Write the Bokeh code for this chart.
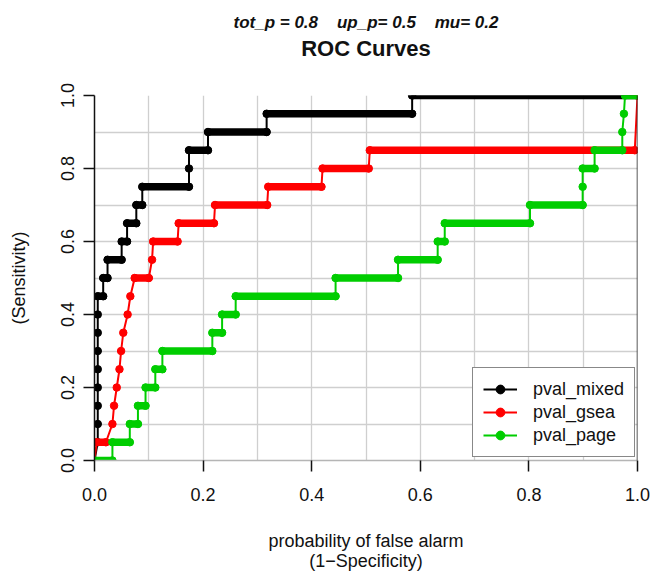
from bokeh.plotting import figure
from bokeh.models import (Range1d, FixedTicker, Span, Legend, LegendItem,
                          LinearAxis, PrintfTickFormatter)
from bokeh.embed import file_html
from bokeh.resources import INLINE

# ---------------- data ----------------
series_names = ["pval_mixed", "pval_gsea", "pval_page"]
series_colors = ["#000000", "#ff0000", "#00cd00"]

mixed_fpr = [0.0, 0.006, 0.006, 0.006, 0.006, 0.006, 0.006, 0.006, 0.006, 0.006,
             0.016, 0.016, 0.024, 0.024, 0.050, 0.050, 0.060, 0.060, 0.077, 0.077,
             0.088, 0.088, 0.174, 0.174, 0.174, 0.209, 0.209, 0.317, 0.317, 0.585,
             0.585, 1.0]
mixed_tpr = [0.0, 0.05, 0.10, 0.15, 0.20, 0.25, 0.30, 0.35, 0.40, 0.45,
             0.45, 0.50, 0.50, 0.55, 0.55, 0.60, 0.60, 0.65, 0.65, 0.70,
             0.70, 0.75, 0.75, 0.80, 0.85, 0.85, 0.90, 0.90, 0.95, 0.95,
             1.0, 1.0]

gsea_fpr = [0.0, 0.004, 0.021, 0.033, 0.036, 0.041, 0.046, 0.049, 0.053, 0.061,
            0.066, 0.074, 0.100, 0.106, 0.108, 0.153, 0.155, 0.220, 0.222, 0.318,
            0.320, 0.418, 0.420, 0.505, 0.507, 0.995, 1.0]
gsea_tpr = [0.0, 0.05, 0.05, 0.10, 0.15, 0.20, 0.25, 0.30, 0.35, 0.40,
            0.45, 0.50, 0.50, 0.55, 0.60, 0.60, 0.65, 0.65, 0.70, 0.70,
            0.75, 0.75, 0.80, 0.80, 0.85, 0.85, 1.0]

page_fpr = [0.0, 0.033, 0.033, 0.065, 0.065, 0.080, 0.080, 0.094, 0.094, 0.112,
            0.112, 0.125, 0.125, 0.217, 0.217, 0.235, 0.235, 0.260, 0.260, 0.444,
            0.444, 0.559, 0.559, 0.632, 0.632, 0.645, 0.645, 0.802, 0.802, 0.899,
            0.899, 0.899, 0.921, 0.921, 0.972, 0.972, 0.975, 0.977, 1.0]
page_tpr = [0.0, 0.0, 0.05, 0.05, 0.10, 0.10, 0.15, 0.15, 0.20, 0.20,
            0.25, 0.25, 0.30, 0.30, 0.35, 0.35, 0.40, 0.40, 0.45, 0.45,
            0.50, 0.50, 0.55, 0.55, 0.60, 0.60, 0.65, 0.65, 0.70, 0.70,
            0.75, 0.80, 0.80, 0.85, 0.85, 0.90, 0.95, 1.0, 1.0]

axis_ticks = [0.0, 0.2, 0.4, 0.6, 0.8, 1.0]
grid_ticks = [0.0, 0.1, 0.2, 0.3, 0.4, 0.5, 0.6, 0.7, 0.8, 0.9, 1.0]

main_title = "ROC Curves"
sub_title = "tot_p = 0.8\u00a0\u00a0\u00a0\u00a0up_p= 0.5\u00a0\u00a0\u00a0\u00a0mu= 0.2"
x_label = "probability of false alarm\n(1\u2212Specificity)"
y_label = "(Sensitivity)"

FONT = "Liberation Sans"

# ---------------- figure ----------------
p = figure(width=653, height=573, x_range=Range1d(0, 1), y_range=Range1d(0, 1),
           output_backend="svg", toolbar_location=None,
           min_border_left=94, min_border_right=16, min_border_top=95,
           min_border_bottom=112)
p.outline_line_color = None
p.background_fill_color = "white"
p.border_fill_color = "white"

# grid
for g in (p.xgrid, p.ygrid):
    g.ticker = FixedTicker(ticks=grid_ticks)
    g.grid_line_color = "#cfcfcf"
    g.grid_line_width = 1.3

# the two data axes
xa = p.below[0]
ya = p.left[0]
for ax in (xa, ya):
    ax.ticker = FixedTicker(ticks=axis_ticks)
    ax.formatter = PrintfTickFormatter(format="%.1f")
    ax.major_tick_in = 0
    ax.major_tick_out = 11
    ax.minor_tick_line_color = None
    ax.major_tick_line_color = "#111111"
    ax.major_tick_line_width = 1.5
    ax.major_label_text_font = FONT
    ax.major_label_text_font_size = "18px"
    ax.major_label_text_color = "#111111"
    ax.axis_label_text_font = FONT
    ax.axis_label_text_font_size = "18px"
    ax.axis_label_text_font_style = "normal"
    ax.axis_label_text_color = "#111111"

xa.axis_line_color = "#b5b5b5"
xa.axis_line_width = 1.5
xa.major_label_standoff = 16
xa.axis_label = x_label
xa.axis_label_standoff = 27
xa.axis_label_text_line_height = 1.0

ya.axis_line_color = "#111111"
ya.axis_line_width = 1.5
ya.major_label_orientation = "vertical"
ya.major_label_standoff = 10
ya.axis_label = y_label
ya.axis_label_standoff = 29

# outer title line (parameters)
p.title.text = sub_title
p.title.align = "center"
p.title.text_font = FONT
p.title.text_font_size = "17px"
p.title.text_font_style = "bold italic"
p.title.text_color = "#111111"
p.title.standoff = 2

# main title, held by a bare axis above the frame so its gap can be set
title_axis = LinearAxis(axis_label=main_title, ticker=FixedTicker(ticks=[]),
                        axis_line_color=None, major_tick_line_color=None,
                        minor_tick_line_color=None, major_tick_out=0,
                        major_tick_in=0, minor_tick_out=0, minor_tick_in=0,
                        major_label_standoff=0, major_label_text_font_size="0px",
                        axis_label_standoff=35, axis_label_text_font=FONT,
                        axis_label_text_font_size="22px",
                        axis_label_text_font_style="bold",
                        axis_label_text_color="#111111")
p.add_layout(title_axis, "above")

p.add_layout(Span(location=1, dimension="height", line_color="#222222",
                  line_width=1.5))

# ---------------- series ----------------
legend_items = []
all_series = [(mixed_fpr, mixed_tpr), (gsea_fpr, gsea_tpr), (page_fpr, page_tpr)]
for (fpr, tpr), name, col in zip(all_series, series_names, series_colors):
    line_r = p.line(fpr, tpr, line_color=col, line_width=2)
    # horizontal runs are drawn by R as densely overlapping points
    x0, x1, yy = [], [], []
    for i in range(len(fpr) - 1):
        if tpr[i] == tpr[i + 1] and fpr[i + 1] > fpr[i]:
            x0.append(fpr[i]); x1.append(fpr[i + 1]); yy.append(tpr[i])
    p.segment(x0=x0, y0=yy, x1=x1, y1=yy, line_color=col, line_width=7.5,
              line_cap="round")
    dot_r = p.scatter(fpr, tpr, size=7.5, fill_color=col, line_color=col)
    legend_items.append(LegendItem(label=name, renderers=[line_r, dot_r]))

legend = Legend(items=legend_items, location=(378, 3), margin=0, padding=10,
                spacing=1, glyph_width=34, glyph_height=22, label_height=22,
                label_standoff=16, label_text_font=FONT,
                label_text_font_size="18px", label_text_color="#111111",
                border_line_color="#111111", border_line_width=1.5,
                background_fill_color="white", background_fill_alpha=1.0)
p.add_layout(legend)

open("out.html", "w").write(file_html(p, INLINE))
